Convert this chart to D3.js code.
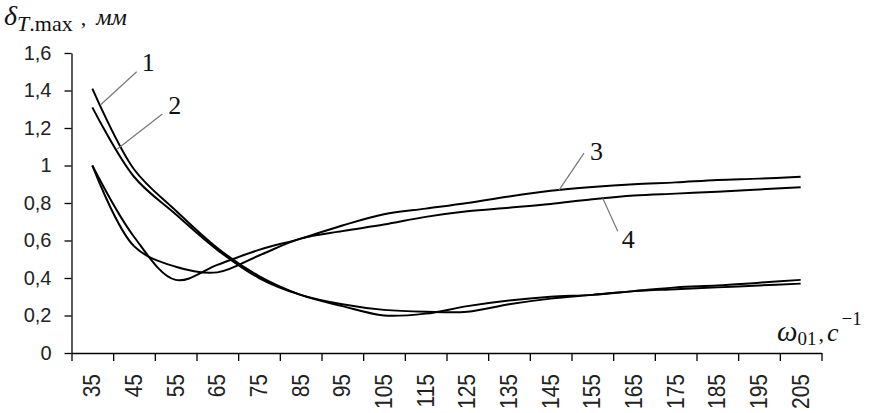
<!DOCTYPE html>
<html>
<head>
<meta charset="utf-8">
<script src="https://cdn.jsdelivr.net/npm/d3@7"></script>
<style>
  body { margin: 0; background: #fff; }
  svg { display: block; }
</style>
</head>
<body>
<svg id="chart" width="872" height="413"></svg>
<script>
// categories (omega_01, 1/s)
const categories = [35, 45, 55, 65, 75, 85, 95, 105, 115, 125, 135, 145, 155, 165, 175, 185, 195, 205]

// series values, mm
const curve1 = [1.41, 0.98, 0.76, 0.56, 0.41, 0.31, 0.25, 0.20, 0.21, 0.25, 0.28, 0.30, 0.31, 0.33, 0.35, 0.36, 0.375, 0.39]
const curve2 = [1.31, 0.94, 0.74, 0.55, 0.40, 0.31, 0.26, 0.23, 0.22, 0.22, 0.26, 0.29, 0.31, 0.33, 0.34, 0.35, 0.36, 0.37]
const curve3 = [1.00, 0.62, 0.39, 0.47, 0.55, 0.61, 0.68, 0.74, 0.77, 0.80, 0.835, 0.865, 0.885, 0.90, 0.91, 0.923, 0.93, 0.94]
const curve4 = [1.00, 0.57, 0.46, 0.43, 0.52, 0.61, 0.65, 0.685, 0.726, 0.756, 0.775, 0.795, 0.82, 0.84, 0.85, 0.86, 0.872, 0.884]

const yTicks = [0, 0.2, 0.4, 0.6, 0.8, 1, 1.2, 1.4, 1.6]
const yTickLabels = ['0', '0,2', '0,4', '0,6', '0,8', '1', '1,2', '1,4', '1,6']

// curve labels: where the leader touches the curve (in category steps),
// where the leader ends, and where the number sits relative to that end
const curveLabels = [
  { name: '1', series: curve1, at: 0.2, dx: 36, dy: -33, tx: 5, ty: -1 },
  { name: '2', series: curve2, at: 0.6, dx: 45, dy: -35, tx: 6, ty: 0 },
  { name: '3', series: curve3, at: 11.2, dx: 25, dy: -37, tx: 6, ty: 7 },
  { name: '4', series: curve4, at: 12.25, dx: 15, dy: 33, tx: 4, ty: 17 }
]

const svg = d3.select('#chart')

const plotLeft = 71.5, plotRight = 821.5, plotTop = 53, plotBottom = 353

const x = d3.scaleBand()
  .domain(categories)
  .range([plotLeft, plotRight])
  .paddingInner(0)
  .paddingOuter(0)

// tick marks sit between categories
const xIdx = d3.scaleLinear()
  .domain([0, categories.length])
  .range([plotLeft, plotRight])

const y = d3.scaleLinear()
  .domain([0, 1.6])
  .range([plotBottom, plotTop])

const cx = c => x(c) + x.bandwidth() / 2

// axes
svg.append('g')
  .attr('transform', `translate(${plotLeft},0)`)
  .call(d3.axisLeft(y).tickValues(yTicks).tickSize(7).tickSizeOuter(0).tickFormat((d, i) => yTickLabels[i]))
  .call(g => g.select('.domain').attr('stroke', '#000').attr('stroke-width', 1.3))
  .call(g => g.selectAll('.tick line').attr('stroke', '#000').attr('stroke-width', 1.3))
  .call(g => g.selectAll('.tick text')
    .attr('x', -20)
    .attr('fill', '#222')
    .style('font-family', '"Liberation Sans", Arial, sans-serif')
    .style('font-size', '20px'))

svg.append('g')
  .attr('transform', `translate(0,${plotBottom})`)
  .call(d3.axisBottom(xIdx).ticks(categories.length).tickSize(8).tickSizeOuter(0).tickFormat(''))
  .call(g => g.select('.domain').attr('stroke', '#000').attr('stroke-width', 1.3))
  .call(g => g.selectAll('.tick line').attr('stroke', '#000').attr('stroke-width', 1.3))

svg.append('g')
  .selectAll('text')
  .data(categories)
  .enter()
  .append('text')
  .attr('transform', d => `translate(${cx(d) + 8},374) rotate(-90) scale(1,1.15)`)
  .attr('text-anchor', 'end')
  .attr('fill', '#222')
  .style('font-family', '"Liberation Sans", Arial, sans-serif')
  .style('font-size', '21px')
  .text(d => d)

// curves
const line = d3.line()
  .x((d, i) => cx(categories[i]))
  .y(d => y(d))
  .curve(d3.curveCatmullRom.alpha(0.5))

svg.selectAll('.curve')
  .data([curve1, curve2, curve3, curve4])
  .enter()
  .append('path')
  .attr('class', 'curve')
  .attr('d', d => line(d))
  .attr('fill', 'none')
  .attr('stroke', '#000')
  .attr('stroke-width', 2)

// leader lines and numbers
curveLabels.forEach(l => {
  const i0 = Math.floor(l.at), t = l.at - i0
  const px = cx(categories[i0]) + t * x.bandwidth()
  const py = y(l.series[i0] + t * (l.series[i0 + 1] - l.series[i0]))
  svg.append('line')
    .attr('x1', px).attr('y1', py)
    .attr('x2', px + l.dx).attr('y2', py + l.dy)
    .attr('stroke', '#777')
    .attr('stroke-width', 1.2)
  svg.append('text')
    .attr('x', px + l.dx + l.tx)
    .attr('y', py + l.dy + l.ty)
    .style('font-family', '"Liberation Serif", "Times New Roman", serif')
    .style('font-size', '26px')
    .attr('fill', '#111')
    .text(l.name)
})

// axis titles
const yTitle = svg.append('text')
  .attr('x', 4).attr('y', 25)
  .style('font-family', '"Liberation Serif", "Times New Roman", serif')
  .attr('fill', '#111')
yTitle.append('tspan').style('font-size', '28px').style('font-style', 'italic').text('δ')
yTitle.append('tspan').style('font-size', '22px').style('font-style', 'italic').attr('dy', 6).text('T')
yTitle.append('tspan').style('font-size', '22px').text('.max')
yTitle.append('tspan').style('font-size', '22px').attr('dy', -6).attr('dx', 8).text(',')
yTitle.append('tspan').style('font-size', '24px').style('font-style', 'italic').attr('dx', 10).text('мм')

const xTitle = svg.append('text')
  .attr('x', 777).attr('y', 341)
  .style('font-family', '"Liberation Serif", "Times New Roman", serif')
  .attr('fill', '#111')
xTitle.append('tspan').style('font-size', '29px').style('font-style', 'italic').text('ω')
xTitle.append('tspan').style('font-size', '19px').attr('dy', 4).text('01')
xTitle.append('tspan').style('font-size', '22px').attr('dy', -4).attr('dx', 2).text(',')
xTitle.append('tspan').style('font-size', '26px').style('font-style', 'italic').attr('dx', 3).text('c')
xTitle.append('tspan').style('font-size', '19px').attr('dy', -16).attr('dx', 3).text('−1')
</script>
</body>
</html>
